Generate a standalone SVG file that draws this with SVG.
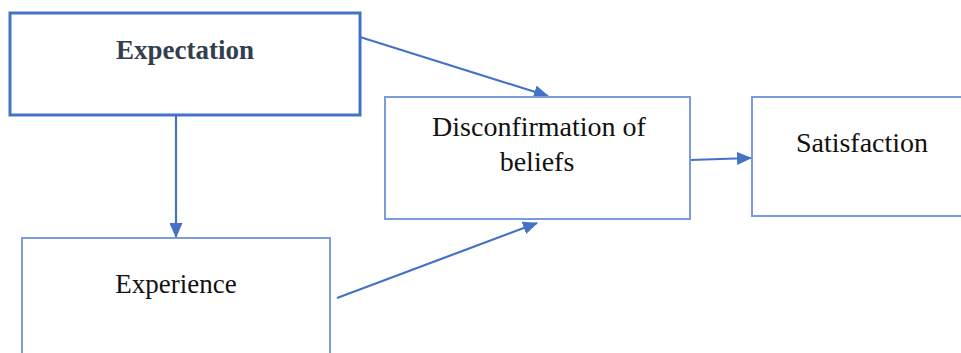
<svg xmlns="http://www.w3.org/2000/svg" width="961" height="353" viewBox="0 0 961 353">
<style>
.box{fill:#fff;stroke:#7C9BD9;stroke-width:2}
.bold{fill:#fff;stroke:#4472C4;stroke-width:3}
.t{font-family:"Liberation Serif","Times New Roman",serif;font-size:28px;fill:#111;text-anchor:middle}
.tb{font-family:"Liberation Serif","Times New Roman",serif;font-size:27px;font-weight:bold;fill:#333F50;text-anchor:middle}
.c{stroke:#4472C4;stroke-width:2.2;fill:none;marker-end:url(#ah)}
</style>
<defs>
<marker id="ah" markerWidth="15" markerHeight="13" refX="14" refY="6.5" orient="auto" markerUnits="userSpaceOnUse">
<path d="M0,0 L15,6.5 L0,13 z" fill="#4472C4"/>
</marker>
</defs>
<g id="connectors">
<line class="c" x1="360" y1="37" x2="548" y2="96"/>
<line class="c" x1="176" y1="115" x2="176" y2="237"/>
<line class="c" x1="337" y1="298" x2="537" y2="223"/>
<line class="c" x1="690" y1="160" x2="751" y2="158"/>
</g>
<g id="expectation">
<rect class="bold" x="10" y="13" width="350" height="102"/>
<text class="tb" x="185" y="59">Expectation</text>
</g>
<g id="disconfirmation">
<rect class="box" x="385" y="97" width="305" height="122"/>
<text class="t" x="539" y="136">Disconfirmation of</text>
<text class="t" x="537" y="171">beliefs</text>
</g>
<g id="satisfaction">
<rect class="box" x="752" y="97" width="220" height="119"/>
<text class="t" x="862" y="152">Satisfaction</text>
</g>
<g id="experience">
<rect class="box" x="22" y="238" width="308" height="130"/>
<text class="t" style="font-size:27px" x="176" y="293">Experience</text>
</g>
</svg>
